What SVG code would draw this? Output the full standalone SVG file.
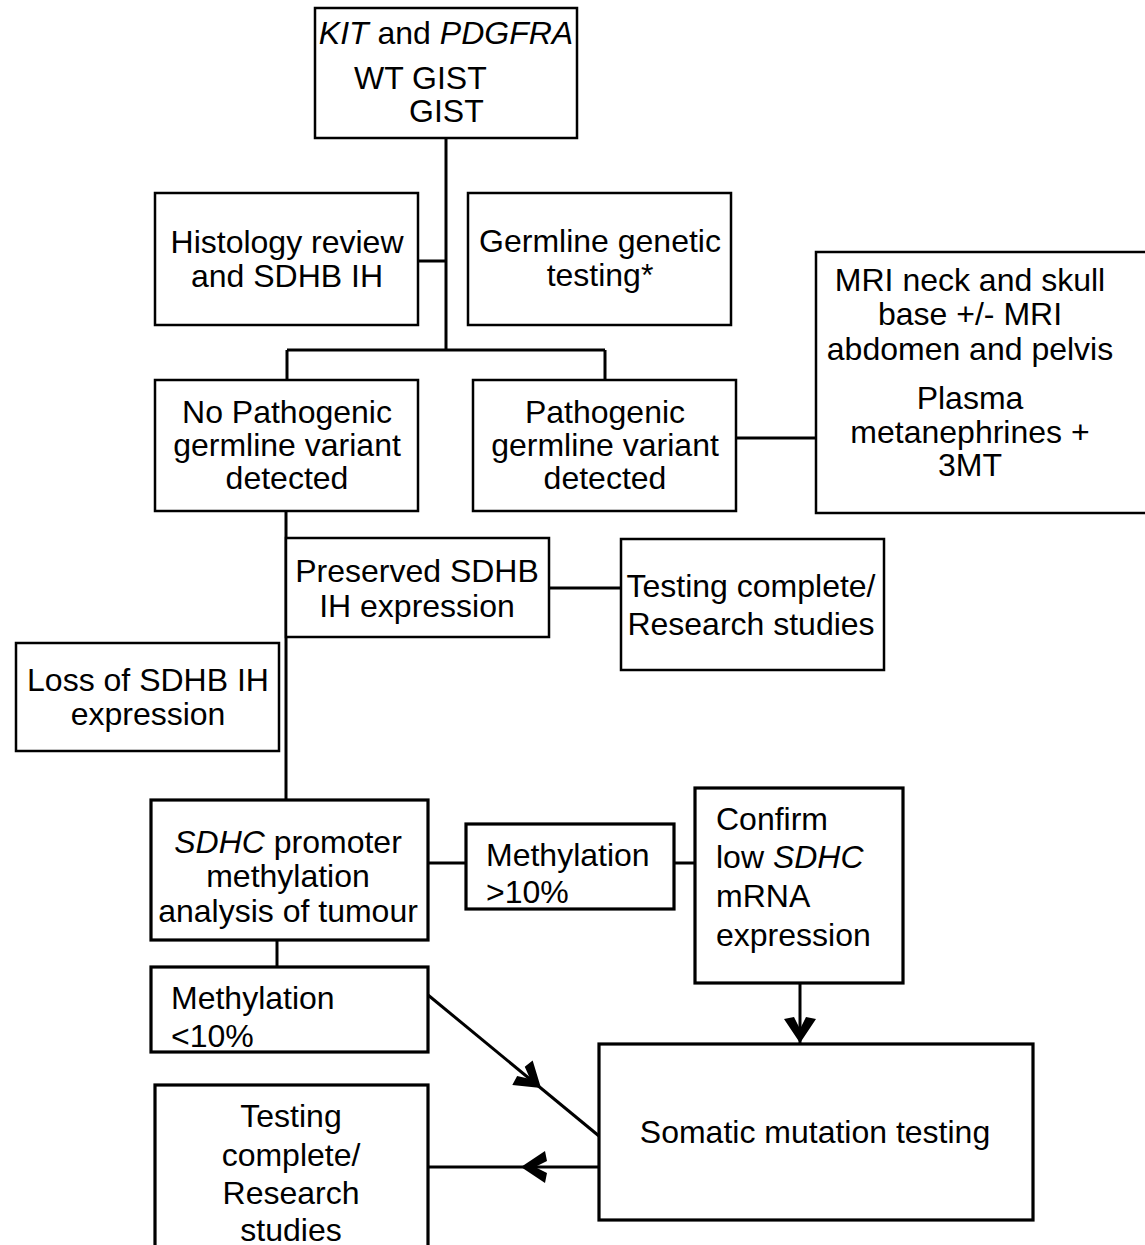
<svg xmlns="http://www.w3.org/2000/svg" xmlns:xlink="http://www.w3.org/1999/xlink" width="1145" height="1245" viewBox="0 0 1145 1245">
<style>
text{font-family:"Liberation Sans",Arial,sans-serif;font-size:32px;fill:#000}
.c{text-anchor:middle}
.i{font-style:italic}
.box{fill:#fff;stroke:#000;stroke-width:2.5}
.box3{fill:#fff;stroke:#000;stroke-width:3.2}
.ln{fill:none;stroke:#000;stroke-width:3}
</style>
<defs>
<path id="dart" d="M0,0 L-24,-16 L-26,-6 L-14,0 L-26,6 L-24,16 Z" fill="#000"/>
</defs>
<g id="connectors">
<path class="ln" d="M446,138 V350 M418,261 H446 M287,350 H605 M287,350 V380 M605,350 V380"/>
<path class="ln" d="M736,438 H816"/>
<path class="ln" d="M286,511 V800"/>
<path class="ln" d="M549,588 H621"/>
<path class="ln" d="M428,863 H466 M674,863 H695"/>
<path class="ln" d="M277,940 V967"/>
<path class="ln" d="M800,983 V1044"/>
<use xlink:href="#dart" transform="translate(800,1043) rotate(90)"/>
<path class="ln" d="M428,995 L599,1136"/>
<use xlink:href="#dart" transform="translate(541,1088) rotate(39.5)"/>
<path class="ln" d="M599,1167 H428"/>
<use xlink:href="#dart" transform="translate(521,1167) rotate(180)"/>
</g>
<g id="n_top">
<rect class="box" x="315" y="8" width="262" height="130"/>
<text class="c" x="446" y="44"><tspan class="i">KIT</tspan> and <tspan class="i">PDGFRA</tspan></text>
<text x="354" y="89">WT GIST</text>
<text x="409" y="122">GIST</text>
</g>
<g id="n_histology">
<rect class="box" x="155" y="193" width="263" height="132"/>
<text class="c" x="287" y="253">Histology review</text>
<text class="c" x="287" y="287">and SDHB IH</text>
</g>
<g id="n_germline">
<rect class="box" x="468" y="193" width="263" height="132"/>
<text class="c" x="600" y="252">Germline genetic</text>
<text class="c" x="600" y="286">testing*</text>
</g>
<g id="n_mri">
<rect class="box" x="816" y="252" width="340" height="261"/>
<text class="c" x="970" y="291">MRI neck and skull</text>
<text class="c" x="970" y="325">base +/- MRI</text>
<text class="c" x="970" y="360">abdomen and pelvis</text>
<text class="c" x="970" y="409">Plasma</text>
<text class="c" x="970" y="443">metanephrines +</text>
<text class="c" x="970" y="476">3MT</text>
</g>
<g id="n_nopath">
<rect class="box" x="155" y="380" width="263" height="131"/>
<text class="c" x="287" y="423">No Pathogenic</text>
<text class="c" x="287" y="456">germline variant</text>
<text class="c" x="287" y="489">detected</text>
</g>
<g id="n_path">
<rect class="box" x="473" y="380" width="263" height="131"/>
<text class="c" x="605" y="423">Pathogenic</text>
<text class="c" x="605" y="456">germline variant</text>
<text class="c" x="605" y="489">detected</text>
</g>
<g id="n_preserved">
<rect class="box" x="286" y="538" width="263" height="99"/>
<text class="c" x="417" y="582">Preserved SDHB</text>
<text class="c" x="417" y="617">IH expression</text>
</g>
<g id="n_testing1">
<rect class="box" x="621" y="539" width="263" height="131"/>
<text class="c" x="751" y="597">Testing complete/</text>
<text class="c" x="751" y="635">Research studies</text>
</g>
<g id="n_loss">
<rect class="box" x="16" y="643" width="263" height="108"/>
<text class="c" x="148" y="691">Loss of SDHB IH</text>
<text class="c" x="148" y="725">expression</text>
</g>
<g id="n_sdhc">
<rect class="box3" x="151" y="800" width="277" height="140"/>
<text class="c" x="288" y="853"><tspan class="i">SDHC</tspan> promoter</text>
<text class="c" x="288" y="887">methylation</text>
<text class="c" x="288" y="922">analysis of tumour</text>
</g>
<g id="n_methhigh">
<rect class="box3" x="466" y="824" width="208" height="85"/>
<text x="486" y="866">Methylation</text>
<text x="486" y="903">&gt;10%</text>
</g>
<g id="n_confirm">
<rect class="box3" x="695" y="788" width="208" height="195"/>
<text x="716" y="830">Confirm</text>
<text x="716" y="868">low <tspan class="i">SDHC</tspan></text>
<text x="716" y="907">mRNA</text>
<text x="716" y="946">expression</text>
</g>
<g id="n_methlow">
<rect class="box3" x="151" y="967" width="277" height="85"/>
<text x="171" y="1009">Methylation</text>
<text x="171" y="1047">&lt;10%</text>
</g>
<g id="n_somatic">
<rect class="box3" x="599" y="1044" width="434" height="176"/>
<text class="c" x="815" y="1143">Somatic mutation testing</text>
</g>
<g id="n_testing2">
<rect class="box3" x="155" y="1085" width="273" height="175"/>
<text class="c" x="291" y="1127">Testing</text>
<text class="c" x="291" y="1166">complete/</text>
<text class="c" x="291" y="1204">Research</text>
<text class="c" x="291" y="1241">studies</text>
</g>
</svg>
